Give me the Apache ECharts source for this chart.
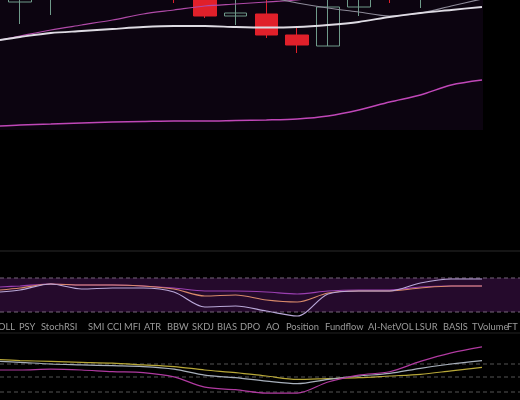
<!DOCTYPE html>
<html><head><meta charset="utf-8">
<script src="https://cdn.jsdelivr.net/npm/echarts@6/dist/echarts.min.js"></script>
<style>html,body{margin:0;background:#000}#c{width:520px;height:400px}</style>
</head><body><div id="c"></div>
<script>
const categories = ['1','2','3','4','5','6','7','8','9','10','11','12','13','14','15','16'];
// positions along the series (index; the first line point is just left of the first candle)
const xPos = [-0.65,0,1,2,3,4,5,6,7,8,9,10,11,12,13,14,15];
// main panel values are in panel units (0 = top, 130 = bottom)
const candles = [
 [2,-10,24,-15],[-2,-10,15,-15],[-20,-30,-15,-35],[-20,-30,-15,-35],[-20,-30,-15,-35],[-20,-5,3,-25],
 [-5,16,18,-8],[16,13,25,-2],[14,35,38,-2],[35,45,53,27],[46,7,46,-3],[7,-5,16,-8],
 [-10,-3,3,-15],[-5,-15,8,-20],[-10,-20,-2,-25],[-10,-20,-2,-25]];
const maWhite = [40,37,33,31,29,27,26,26,27,27.5,27,25,22,17,13,10,7];
const maPinkUpper = [40,36,30,25,20,14,10,6,4,2,0,-5,-8,-10,-12,-14,-16];
const maGrey = [-32,-30,-28,-25,-22,-18,-14,-10,-6,-3,3,8,12,16,13,6,-1];
const maPinkLower = [126,125,124,123,122,121.5,121,121,120.5,120,119,116,110,102,95,85,80];
// sub panel 1
const sub1Orange = [290,288,284,285,285,286,289,296,295,300,302,293,291,291,288,286,286];
const sub1Lav = [292,290,284,289,288,288,292,307,306,311,316,294,291,291,283,279,279];
const sub1Purple = [287,286,284,285,285,286,288,291,291,292,294,291,290,290,287,286,286];
// sub panel 2
const sub2Yellow = [363,364,365,366,367,369,371,375,378,382,386,385,384,382,380,376,372];
const sub2Grey = [365,366,368,369,370,371,374,381,384,388,391,386,382,379,373,368,364];
const sub2Magenta = [375,375,374,375,377,378,383,395,398,402,402,389,381,377,365,355,348];
const tabLabels = ['OLL','PSY','StochRSI','SMI','CCI','MFI','ATR','BBW','SKDJ','BIAS','DPO','AO','Position','Fundflow','AI-NetVOL','LSUR','BASIS','TVolume','FT'];
const tabX = [-2,19,41,88,107,124,144,167,192,217,240,266,286,325,368,415,443,472,507];

const grids=[{left:0,width:520,top:0,height:130},{left:0,width:520,top:260,height:70},{left:0,width:520,top:340,height:70},{left:4.6,width:492.8,top:0,height:130}];
const ranges=[[0,130],[260,330],[340,410],[0,130]];
const xAxis=[0,1,2].map(i=>({type:'value',gridIndex:i,min:-0.649,max:16.234,show:false}));
xAxis.push({type:'category',data:categories,gridIndex:3,show:false,boundaryGap:true});
const yAxis=grids.map((g,i)=>({type:'value',gridIndex:i,min:ranges[i][0],max:ranges[i][1],inverse:true,show:false}));
const line=(d,c,gi,w)=>({type:'line',data:d.map((v,k)=>[xPos[k],v]),xAxisIndex:gi,yAxisIndex:gi,symbol:'none',smooth:0.3,lineStyle:{color:c,width:w||1},clip:true,z:3});
const candleData=candles.map(c=>{const up=c[1]<c[0];return {value:c,itemStyle:up?{color:'rgba(0,0,0,0)',borderColor:'#6f9a8a',color0:'rgba(0,0,0,0)',borderColor0:'#6f9a8a'}:{color:'#e0202a',borderColor:'#e0202a',color0:'#e0202a',borderColor0:'#e0202a'}};});
const graphic=[
 {type:'rect',shape:{x:0,y:0,width:483,height:130},style:{fill:'#0c0410'},z:-10},
 {type:'line',shape:{x1:0,y1:251,x2:520,y2:251},style:{stroke:'#2a2a2a',lineWidth:1},z:-5},
 {type:'rect',shape:{x:0,y:278,width:520,height:34},style:{fill:'#250a2c'},z:-10},
 {type:'line',shape:{x1:0,y1:278,x2:520,y2:278},style:{stroke:'#77667a',lineDash:[4,3],lineWidth:1},z:-5},
 {type:'line',shape:{x1:0,y1:312,x2:520,y2:312},style:{stroke:'#77667a',lineDash:[4,3],lineWidth:1},z:-5},
 {type:'line',shape:{x1:0,y1:333,x2:520,y2:333},style:{stroke:'#222',lineWidth:1},z:-5},
 ...[364,377,392].map(y=>({type:'line',shape:{x1:0,y1:y,x2:520,y2:y},style:{stroke:'#555',lineDash:[4,3],lineWidth:1},z:-5})),
 ...tabLabels.map((t,i)=>({type:'text',x:tabX[i],y:322,style:{text:t,fill:'#9a9a9a',font:'9.3px Lato'}}))
];
const chart=echarts.init(document.getElementById('c'));
chart.setOption({backgroundColor:'#000',animation:false,grid:grids,xAxis,yAxis,graphic,
series:[
 {type:'candlestick',data:candleData,xAxisIndex:3,yAxisIndex:3,barWidth:23,clip:true,z:2},
 line(maPinkUpper,'#b04aa8',0,1.2),line(maGrey,'#8d8a98',0,1.2),line(maWhite,'#dedbe3',0,1.8),line(maPinkLower,'#c047b8',0,1.5),
 line(sub1Purple,'#9a3fb0',1,1.2),line(sub1Orange,'#d98a6a',1,1.2),line(sub1Lav,'#b9a8d8',1,1.2),
 line(sub2Yellow,'#b8a838',2,1.2),line(sub2Grey,'#a8b0bc',2,1.2),line(sub2Magenta,'#b03aa0',2,1.2)
]});
</script></body></html>
